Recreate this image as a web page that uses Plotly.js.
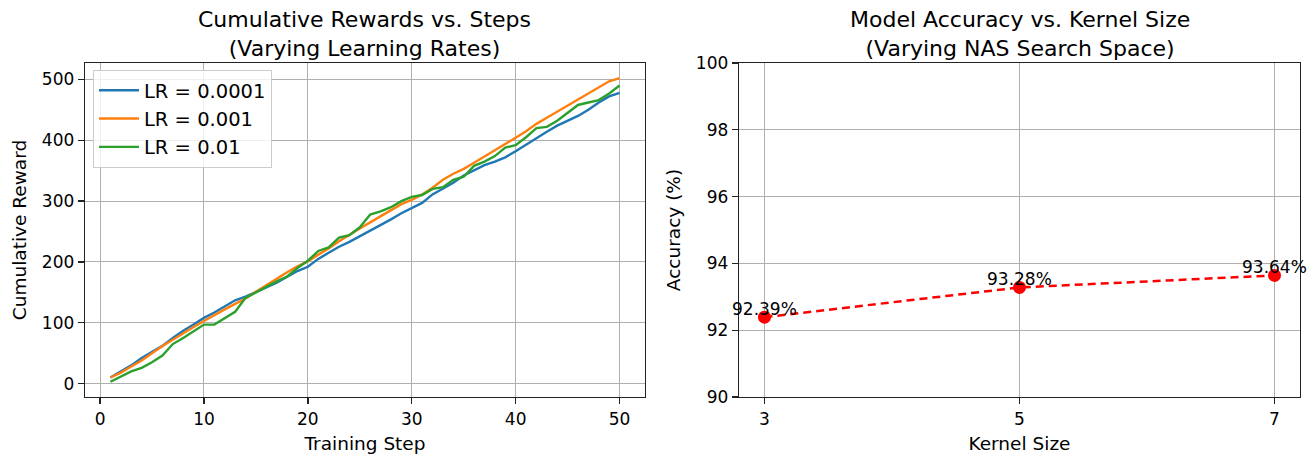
<!DOCTYPE html>
<html>
<head>
<meta charset="utf-8">
<script src="https://cdn.plot.ly/plotly-3.0.1.min.js"></script>
<style>html,body{margin:0;padding:0;background:#fff;}#chart{width:1316px;height:459px;}</style>
</head>
<body>
<div id="chart"></div>
<script>
// ---- data ----
const steps = Array.from({length: 50}, (_, i) => i + 1);
const rewardLR0001 = [10,20,30,42,52,62,75,87,97,108,117,127,137,143,150,158,166,175,185,192,205,215,225,233,242,252,260,270,280,289,297,311,321,330,342,350,359,365,372,382,393,404,414,424,432,440,450,462,472,478];
const rewardLR001  = [10,18,28,38,50,62,72,83,93,103,113,122,131,140,151,162,172,183,193,201,212,222,234,245,255,265,275,285,295,302,311,322,335,345,353,363,373,384,394,404,415,427,437,447,457,467,477,487,497,502];
const rewardLR01   = [3,12,20,26,35,46,65,75,86,97,97,107,118,141,150,160,168,176,190,202,218,224,240,244,257,278,283,290,300,307,310,320,323,335,340,358,365,374,388,392,405,420,422,432,445,458,462,466,477,490];
const seriesNames  = ["LR = 0.0001", "LR = 0.001", "LR = 0.01"];
const kernelSizes  = [3, 5, 7];
const accuracy     = [92.39, 93.28, 93.64];
const accLabels    = ["92.39%", "93.28%", "93.64%"];

const colors = ["#1f77b4", "#ff7f0e", "#2ca02c"];
const font = "DejaVu Sans, Liberation Sans, sans-serif";
const tickSize = 17, labelSize = 18.5, titleSize = 22, legendSize = 19.5;

const traces = [rewardLR0001, rewardLR001, rewardLR01].map((y, i) => ({
  x: steps, y: y, type: "scatter", mode: "lines", name: seriesNames[i],
  line: {color: colors[i], width: 2.4}, xaxis: "x", yaxis: "y"
}));
traces.push({
  x: kernelSizes, y: accuracy, type: "scatter", mode: "lines+markers",
  line: {color: "#ff0000", width: 2.5, dash: "8px,5px"},
  marker: {color: "#ff0000", size: 13},
  showlegend: false, xaxis: "x2", yaxis: "y2"
});

const axisCommon = {
  showline: true, mirror: true, linecolor: "#222", linewidth: 1.3,
  ticks: "outside", ticklen: 6, tickwidth: 1.3, tickcolor: "#222",
  showgrid: true, gridcolor: "#b0b0b0", gridwidth: 1, zeroline: false,
  tickfont: {family: font, size: tickSize, color: "#000"}
};

const annotations = [
  {text: "Cumulative Rewards vs. Steps<br>(Varying Learning Rates)", x: 365/1316, y: 1 - 5/459,
   xref: "paper", yref: "paper", xanchor: "center", yanchor: "top", showarrow: false,
   font: {family: font, size: titleSize, color: "#000"}},
  {text: "Model Accuracy vs. Kernel Size<br>(Varying NAS Search Space)", x: 1019.5/1316, y: 1 - 5/459,
   xref: "paper", yref: "paper", xanchor: "center", yanchor: "top", showarrow: false,
   font: {family: font, size: titleSize, color: "#000"}}
];
kernelSizes.forEach((k, i) => annotations.push({
  text: accLabels[i], x: k, y: accuracy[i], xref: "x2", yref: "y2",
  xanchor: "center", yanchor: "bottom", showarrow: false, yshift: -4,
  font: {family: font, size: tickSize, color: "#000"}
}));

const layout = {
  width: 1316, height: 459,
  margin: {l: 0, r: 0, t: 0, b: 0},
  paper_bgcolor: "#fff", plot_bgcolor: "#fff",
  font: {family: font, color: "#000"},
  showlegend: true,
  legend: {x: 93/1316, y: 1 - 70/459, xanchor: "left", yanchor: "top",
    bgcolor: "rgba(255,255,255,0.8)", bordercolor: "#cccccc", borderwidth: 1,
    itemwidth: 40,
    font: {family: font, size: legendSize, color: "#000"}, tracegroupgap: 2},
  xaxis: Object.assign({}, axisCommon, {domain: [85/1316, 645/1316], range: [-1.45, 52.45],
    tickvals: [0,10,20,30,40,50], anchor: "y",
    title: {text: "Training Step", font: {family: font, size: labelSize, color: "#000"}, standoff: 9}}),
  yaxis: Object.assign({}, axisCommon, {domain: [1 - 397/459, 1 - 63/459], range: [-22, 527],
    tickvals: [0,100,200,300,400,500], anchor: "x",
    title: {text: "Cumulative Reward", font: {family: font, size: labelSize, color: "#000"}, standoff: 10}}),
  xaxis2: Object.assign({}, axisCommon, {domain: [739/1316, 1300/1316], range: [2.8, 7.2],
    tickvals: kernelSizes, anchor: "y2",
    title: {text: "Kernel Size", font: {family: font, size: labelSize, color: "#000"}, standoff: 9}}),
  yaxis2: Object.assign({}, axisCommon, {domain: [1 - 397/459, 1 - 63/459], range: [90, 100],
    tickvals: [90,92,94,96,98,100], anchor: "x2",
    title: {text: "Accuracy (%)", font: {family: font, size: labelSize, color: "#000"}, standoff: 10}}),
  annotations: annotations
};

Plotly.newPlot("chart", traces, layout, {displayModeBar: false, staticPlot: true});
</script>
</body>
</html>
